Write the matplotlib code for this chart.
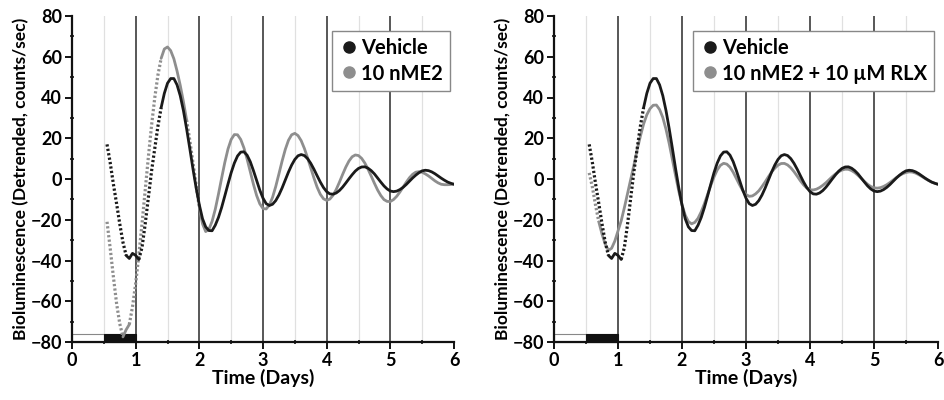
import numpy as np
import matplotlib
matplotlib.use("Agg")
import matplotlib.pyplot as plt
from matplotlib.lines import Line2D
from matplotlib.patches import Rectangle

plt.rcParams['font.family'] = ['Lato', 'DejaVu Sans']
plt.rcParams['font.weight'] = 'bold'

# time in days (sampled every 0.05 day)
time_days = np.round(np.arange(0.55, 6.0001, 0.05), 2)

vehicle = [
    17, 8, -2.5, -12, -22, -31, -37.5, -39, -36.5, -37.5,              # 0.55-1.00
    -39.5, -33.5, -22, -9, 4, 15, 26, 35, 42, 47,                      # 1.05-1.50
    49.3, 49.3, 46.2, 40.9, 33.6, 24.7, 15, 5, -4.4, -12.7,            # 1.55-2.00
    -19.5, -23.5, -25.3, -25.4, -22.7, -18.9, -14, -8.3, -2.5, 3.1,    # 2.05-2.50
    7.8, 11.3, 13.2, 13.35, 11.7, 8.5, 4.1, -0.7, -5.5, -9.4,          # 2.55-3.00
    -12.1, -13, -12.4, -10.6, -7.85, -4.4, -0.5, 3.4, 6.85, 9.6,       # 3.05-3.50
    11.4, 12, 11.5, 10, 7.7, 4.8, 1.6, -1.5, -4.2, -6.2,               # 3.55-4.00
    -7.3, -7.45, -6.86, -5.67, -4, -2, 0.1, 2.1, 3.9, 5.2,             # 4.05-4.50
    5.9, 5.97, 5.3, 4.1, 2.5, 0.5, -1.5, -3.4, -4.9, -5.9,             # 4.55-5.00
    -6.2, -5.95, -5.2, -4.1, -2.7, -1.1, 0.5, 1.9, 3.1, 4.0,           # 5.05-5.50
    4.3, 4.1, 3.5, 2.6, 1.5, 0.4, -0.6, -1.5, -2.1, -2.6,              # 5.55-6.00
]

me2 = [
    -21, -34, -48, -61, -71, -77.5, -74, -71.4, -62.8, -51.3,          # 0.55-1.00
    -37.3, -21.8, -5.4, 10.9, 26.4, 39.9, 51.1, 59.2, 63.8, 64.8,      # 1.05-1.50
    63, 59, 53, 46, 38, 29, 19, 8, -3, -14,                            # 1.55-2.00
    -22, -25.8, -24.7, -20.8, -14.9, -7.5, 0.4, 8.1, 14.7, 19.4,       # 2.05-2.50
    21.8, 21.7, 19.4, 15.3, 9.8, 3.6, -2.6, -8.1, -12.2, -14.5,        # 2.55-3.00
    -14.7, -12.8, -9, -3.7, 2.5, 8.8, 14.5, 19, 21.7, 22.4,            # 3.05-3.50
    21.3, 18.8, 15, 10.4, 5.4, 0.5, -4, -7.5, -9.7, -10.5,             # 3.55-4.00
    -9.85, -8, -5.15, -1.6, 2.2, 5.8, 8.8, 10.9, 11.8, 11.5,           # 4.05-4.50
    10.1, 7.8, 4.8, 1.4, -2.1, -5.4, -8.1, -10.1, -11, -11.05,         # 4.55-5.00
    -10.1, -8.5, -6.4, -4, -1.6, 0.6, 2.3, 3.35, 3.6, 3.3,             # 5.05-5.50
    2.5, 1.5, 0.3, -0.9, -1.9, -2.6, -2.8, -2.8, -2.7, -2.5,           # 5.55-6.00
]

me2_rlx = [
    3, -4, -13, -21, -27, -32, -35, -34, -30.5, -25.5,                 # 0.55-1.00
    -20.5, -14, -7, 0, 7, 14.5, 21, 27, 31.5, 34.5,                    # 1.05-1.50
    36.2, 36.3, 34.1, 30.2, 24.4, 17.4, 9.5, 1.6, -6, -12.6,           # 1.55-2.00
    -17.7, -20.9, -22, -21.3, -19.3, -16.1, -12.1, -7.6, -3.1, 1,      # 2.05-2.50
    4.4, 6.7, 7.7, 7.3, 5.8, 3.3, 0.2, -2.9, -5.7, -7.6,               # 2.55-3.00
    -8.5, -8.3, -7.3, -5.8, -3.7, -1.4, 1.1, 3.4, 5.3, 6.8,            # 3.05-3.50
    7.6, 7.65, 6.9, 5.5, 3.6, 1.4, -0.9, -2.9, -4.4, -5.3,             # 3.55-4.00
    -5.38, -5, -4.2, -3.1, -1.8, -0.3, 1.2, 2.5, 3.6, 4.4,             # 4.05-4.50
    4.8, 4.75, 4.15, 3.15, 1.8, 0.3, -1.2, -2.6, -3.7, -4.3,           # 4.55-5.00
    -4.5, -4.25, -3.65, -2.8, -1.7, -0.5, 0.7, 1.8, 2.6, 3.2,          # 5.05-5.50
    3.5, 3.4, 2.9, 2.1, 1.2, 0.2, -0.7, -1.5, -2.1, -2.6,              # 5.55-6.00
]

# light/dark bar: light 0-0.5, dark 0.5-1
light_span = (0.0, 0.5)
dark_span = (0.5, 1.0)
day_lines = [1, 2, 3, 4, 5]
half_day_lines = [0.5, 1.5, 2.5, 3.5, 4.5, 5.5]

BLACK = '#1a1a1a'
GREY = '#8e8e8e'

fig = plt.figure(figsize=(9.44, 4.0), dpi=100)
ax1 = fig.add_axes([72/944, 1-342/400, (454-72)/944, (342-16)/400])
ax2 = fig.add_axes([554/944, 1-342/400, (938-554)/944, (342-16)/400])


def draw_curve(ax, t, v, color, z):
    t = np.asarray(t, float)
    v = np.asarray(v, float)
    slope = np.abs(np.gradient(v, t))
    thr = np.where(t < 1.4, 150, 205)
    steep = slope > thr
    # include neighbours so the steep pieces connect to the solid ones
    steep_ext = steep | np.r_[steep[1:], False] | np.r_[False, steep[:-1]]
    vd = np.ma.masked_where(~steep_ext, v)
    ax.plot(t, vd, color=color, lw=2.3, ls=(0, (0.7, 0.7)), zorder=z,
            dash_capstyle='butt')
    vs = np.ma.masked_where(steep, v)
    ax.plot(t, vs, color=color, lw=2.0, zorder=z + 0.1,
            solid_capstyle='round')


def style_axis(ax, series, labels):
    ax.set_xlim(0, 6)
    ax.set_ylim(-80, 80)
    for x in half_day_lines:
        ax.axvline(x, color='#e0e0e0', lw=0.9, zorder=1)
    for x in day_lines:
        ax.axvline(x, color='#2a2a2a', lw=1.1, zorder=2)
    ax.add_patch(Rectangle((light_span[0], -80), light_span[1] - light_span[0], 3.8,
                           facecolor='white', edgecolor='#888888', lw=0.8, zorder=3,
                           clip_on=False))
    ax.add_patch(Rectangle((dark_span[0], -80), dark_span[1] - dark_span[0], 3.8,
                           facecolor='#111111', edgecolor='#111111', lw=0.8, zorder=3,
                           clip_on=False))
    z = 4
    for (v, c) in series:
        draw_curve(ax, time_days, v, c, z)
        z += 1
    for s in ['top', 'right']:
        ax.spines[s].set_visible(False)
    for s in ['left', 'bottom']:
        ax.spines[s].set_linewidth(1.6)
        ax.spines[s].set_color('#111111')
        ax.spines[s].set_zorder(10)
    ax.set_xticks(range(0, 7))
    ax.set_xticks(half_day_lines, minor=True)
    ax.set_yticks(range(-80, 81, 20))
    ax.set_yticks(range(-70, 80, 20), minor=True)
    ax.tick_params(axis='both', which='major', length=5, width=1.3, direction='out',
                   labelsize=13, pad=2)
    ax.tick_params(axis='both', which='minor', length=3, width=1.1, direction='inout')
    for lab in ax.get_xticklabels() + ax.get_yticklabels():
        lab.set_fontweight('bold')
    ax.set_xlabel('Time (Days)', fontsize=14, fontweight='bold', labelpad=0)
    ax.set_ylabel('Bioluminescence (Detrended, counts/sec)', fontsize=12.5,
                  fontweight='bold', labelpad=1)
    handles = [Line2D([], [], ls='none', marker='o', markersize=8,
                      color=c, markeredgecolor=c) for (_, c) in series[::-1]]
    leg = ax.legend(handles, labels, loc='upper right', bbox_to_anchor=(1.0, 0.965),
                    frameon=True, fancybox=False, framealpha=1, edgecolor='#888888',
                    prop={'weight': 'bold', 'size': 14.5}, handletextpad=0.1,
                    handlelength=1.0, borderpad=0.35, labelspacing=0.25,
                    borderaxespad=0.2)
    leg.get_frame().set_linewidth(1.0)
    leg.set_zorder(20)


style_axis(ax1, [(me2, GREY), (vehicle, BLACK)], ['Vehicle', '10 nME2'])
style_axis(ax2, [(me2_rlx, GREY), (vehicle, BLACK)],
           ['Vehicle', '10 nME2 + 10 \u00b5M RLX'])

fig.savefig('out.png', dpi=100)
